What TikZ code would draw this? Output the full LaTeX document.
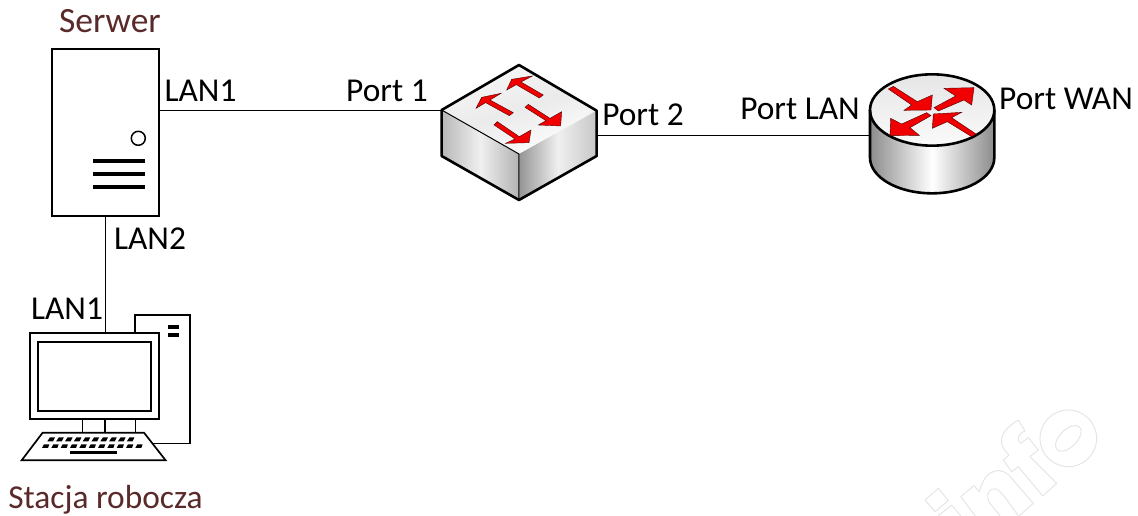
\documentclass[tikz,border=0pt]{standalone}
\usepackage{fontspec}
\setmainfont{Carlito}
\definecolor{brownlabel}{HTML}{5A2A2A}
\definecolor{wm}{HTML}{E4E4E4}
\definecolor{arrowred}{HTML}{F00000}
\tikzset{
  lbl/.style={font=\fontsize{33.4}{35}\selectfont,anchor=base,inner sep=0pt,text=black},
  caption/.style={lbl,text=brownlabel},
  wire/.style={draw=black,line width=1.5pt},
  outline/.style={draw=black,line width=1.7pt,fill=white,line join=miter},
  iconedge/.style={draw=black,line width=2.6pt,line join=round},
  redarrow/.style={fill=arrowred,draw=black!70!red,line width=.4pt,line join=miter},
  wmark/.style={draw=wm,line width=.9pt,line join=round},
  solidbar/.style={fill=black,draw=none}
}
\begin{document}
\begin{tikzpicture}[x=1pt,y=-1pt]
\useasboundingbox (0,0) rectangle (1138,515);
\fill[white] (0,0) rectangle (1138,515);

% watermark
\begin{scope}
\clip (0,0) rectangle (1138,515);
\begin{scope}[shift={(920,370)},x=.3333pt,y=-.3333pt]
\draw[wmark] (15,390) -- (55,355) -- (85,392) -- (45,425) -- cycle;
\draw[wmark] (55,437) -- (95,405) -- (130,447);
\draw[wmark] (165,437) -- (122,380) -- (162,347) -- (178,365) .. controls (195,295) and (245,285) .. (275,325) -- (340,400) -- (298,437);
\draw[wmark] (240,437) -- (210,400) .. controls (195,380) and (205,350) .. (230,358) .. controls (240,362) and (245,372) .. (255,382) -- (295,437);
\draw[wmark] (295,150) -- (315,183) .. controls (295,190) and (288,210) .. (302,220) -- (325,203) -- (355,240) -- (330,260) -- (410,340) -- (368,378) -- (295,290) -- (275,305) -- (250,270) -- (267,255) .. controls (235,225) and (230,190) .. (295,150) -- cycle;
\draw[wmark] (445,205) circle[radius=85];
\draw[wmark] (445,205) circle[x radius=48,y radius=26,rotate=45];
\end{scope}
\end{scope}

% connector end points
\coordinate (srvLanA) at (159,110.5);
\coordinate (srvLanB) at (105.5,216);
\coordinate (swPortA) at (442,110.5);
\coordinate (swPortB) at (597,135.5);
\coordinate (rtPort) at (870,135.5);
\coordinate (pcLan) at (105.5,333);

\draw[wire] (srvLanA) -- (swPortA);
\draw[wire] (swPortB) -- (rtPort);
\draw[wire] (srvLanB) -- (pcLan);

% server
\node[outline,minimum width=107pt,minimum height=167pt,inner sep=0pt] (server) at (105.7,132.5) {};
\draw[line width=1.5pt] (138.3,138.3) circle[radius=7];
\foreach \yy in {161.3,174,186.7}
  \fill (93,\yy-2) rectangle (145,\yy+2);

% switch
\begin{scope}[shift={(430,60)},x=.3333pt,y=-.3333pt]
\shade[left color=black!3,right color=white,middle color=black!8,shading angle=20]
  (267,15) -- (500,152) -- (267,282) -- (35,150) -- cycle;
\shade[left color=black!28,right color=black!30,middle color=black!6]
  (35,150) -- (267,282) -- (267,420) -- (35,288) -- cycle;
\shade[left color=black!42,right color=black!22,middle color=black!6]
  (267,282) -- (500,152) -- (500,288) -- (267,420) -- cycle;
\draw[line width=1pt] (35,150) -- (267,282) -- (267,420);
\draw[iconedge] (267,15) -- (500,152) -- (500,288) -- (267,420) -- (35,288) -- (35,150) -- cycle;
\draw[redarrow] (245,58) -- (307,48) -- (273,66) -- (340,105) -- (328,114) -- (259,74) -- (230,90) -- cycle;
\draw[redarrow] (155,112) -- (213,100) -- (180,120) -- (250,158) -- (238,167) -- (167,128) -- (138,145) -- cycle;
\draw[redarrow] (295,133) -- (360,175) -- (395,155) -- (392,198) -- (325,195) -- (348,182) -- (285,142) -- cycle;
\draw[redarrow] (202,185) -- (268,230) -- (303,210) -- (297,248) -- (227,250) -- (255,237) -- (192,195) -- cycle;
\end{scope}

% router
\begin{scope}[shift={(860,65)},x=.3333pt,y=-.3333pt]
\shade[left color=black!45,right color=black!45,middle color=white]
  (30,135) -- (30,278) arc[start angle=180,end angle=0,x radius=186.5,y radius=107] -- (403,135) -- cycle;
\shade[top color=black!10,bottom color=black!2] (216.5,135) circle[x radius=186.5,y radius=107];
\draw[iconedge] (30,135) -- (30,278) arc[start angle=180,end angle=0,x radius=186.5,y radius=107] -- (403,135);
\draw[iconedge] (216.5,135) circle[x radius=186.5,y radius=107];
\draw[redarrow] (85,72) -- (100,64) -- (172,110) -- (217,90) -- (213,135) -- (132,136) -- (155,120) -- cycle;
\draw[redarrow] (222,128) -- (287,93) -- (252,70) -- (342,68) -- (335,120) -- (312,105) -- (235,138) -- cycle;
\draw[redarrow] (348,207) -- (335,215) -- (262,170) -- (217,190) -- (220,147) -- (305,142) -- (275,158) -- cycle;
\draw[redarrow] (200,143) -- (213,152) -- (150,188) -- (178,211) -- (90,212) -- (92,160) -- (125,177) -- cycle;
\end{scope}

% workstation
\begin{scope}[shift={(0,300)},x=.3333pt,y=-.3333pt]
\draw[line width=1.5pt,line join=miter] (405,100) -- (405,45) -- (570,45) -- (570,430) -- (450,430);
\draw[line width=1.5pt] (247,357) -- (247,398) (315,357) -- (315,398) (407,357) -- (407,398);
\draw[outline] (90,100) rectangle (477,357);
\draw[line width=1.7pt] (115,127) rectangle (452,334);
\draw[outline] (128,398) -- (432,398) -- (497,481) -- (65,481) -- cycle;
\fill (505,75) rectangle (538,88);
\fill (505,100) rectangle (538,112);
\foreach \i in {0,...,9}
  \fill ({150+\i*26.5},412) -- ({165+\i*26.5},412) -- ({159+\i*26.5},424) -- ({142+\i*26.5},424) -- cycle;
\foreach \i in {0,...,10}
  \fill ({132+\i*28},433) -- ({148+\i*28},433) -- ({144+\i*28},444) -- ({126+\i*28},444) -- cycle;
\fill (210,453) rectangle (350,463);
\end{scope}

% labels
\node[caption,font=\fontsize{35.5}{37}\selectfont] (lblserver) at (110,32) {Serwer};
\node[caption] (lblstation) at (105.5,508) {Stacja robocza};
\node[lbl] (lblsrvlana) at (200.5,101) {LAN1};
\node[lbl] (lblportone) at (387,101) {Port 1};
\node[lbl] (lblporttwo) at (643,125) {Port 2};
\node[lbl] (lblportlan) at (800,119) {Port LAN};
\node[lbl] (lblportwan) at (1066,109) {Port WAN};
\node[lbl] (lblsrvlanb) at (150,249) {LAN2};
\node[lbl] (lblpclan) at (67,319) {LAN1};
\end{tikzpicture}
\end{document}
